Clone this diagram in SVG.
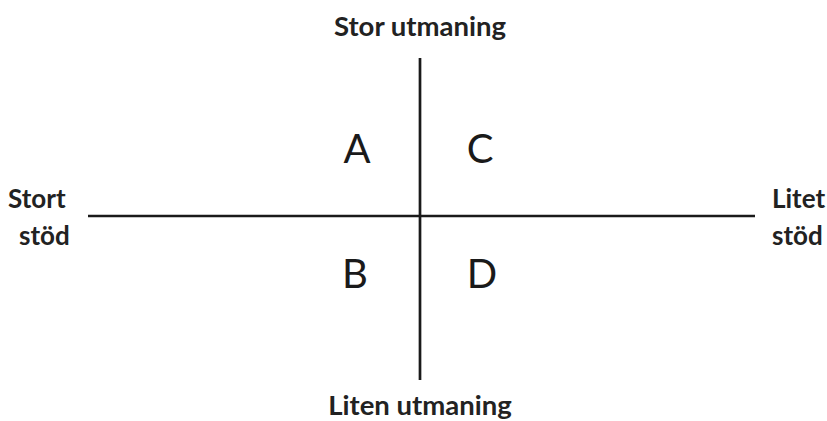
<svg xmlns="http://www.w3.org/2000/svg" width="827" height="421" viewBox="0 0 827 421">
<style>
.lbl{font-family:Lato,"Open Sans","Liberation Sans",sans-serif;font-weight:bold;font-size:26px;fill:#222}
.big{font-size:27.5px}
.q{font-family:Lato,"Open Sans","Liberation Sans",sans-serif;font-weight:normal;font-size:40px;fill:#1a1a1a;text-anchor:middle}
.ax{stroke:#1a1a1a;stroke-width:2.7;fill:none}
</style>
<rect width="827" height="421" fill="#fff"/>
<g id="connectors">
<line class="ax" x1="420" y1="58" x2="420" y2="380"/>
<line class="ax" x1="88" y1="216" x2="755" y2="216"/>
</g>
<g id="top"><text class="lbl big" x="420" y="36" text-anchor="middle">Stor utmaning</text></g>
<g id="bottom"><text class="lbl big" x="420" y="415" text-anchor="middle">Liten utmaning</text></g>
<g id="left"><text class="lbl" x="8" y="208">Stort</text><text class="lbl" x="19" y="245">stöd</text></g>
<g id="right"><text class="lbl" x="772" y="208">Litet</text><text class="lbl" x="772" y="245">stöd</text></g>
<g id="A"><text class="q" x="357" y="163">A</text></g>
<g id="C"><text class="q" x="480" y="163">C</text></g>
<g id="B"><text class="q" x="355" y="288">B</text></g>
<g id="D"><text class="q" x="482" y="288">D</text></g>
</svg>
